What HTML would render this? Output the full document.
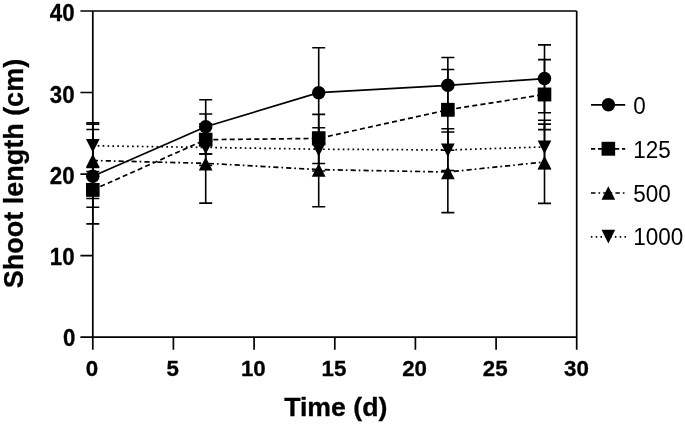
<!DOCTYPE html>
<html><head><meta charset="utf-8"><title>Shoot length</title>
<style>html,body{margin:0;padding:0;background:#fff}svg{display:block}text{font-family:"Liberation Sans",Arial,sans-serif;fill:#000}</style></head><body>
<svg width="685" height="426" viewBox="0 0 685 426">
<rect width="685" height="426" fill="#fff"/>
<g stroke="#000" stroke-width="1.7" fill="none" stroke-linecap="butt">
<path d="M92.8 11.0V337.1M576.7 11.0V349.70000000000005M80.4 11.0H576.7M80.4 337.1H576.7"/>
<path d="M80.4 255.6H92.8M80.4 174.1H92.8M80.4 92.5H92.8M92.8 337.1V349.70000000000005M173.4 337.1V349.70000000000005M254.1 337.1V349.70000000000005M334.8 337.1V349.70000000000005M415.4 337.1V349.70000000000005M496.1 337.1V349.70000000000005"/>
<path stroke-width="1.6" d="M92.8 129.5V223.9M86.3 129.5H99.3M86.3 223.9H99.3M205.7 99.7V153.9M199.2 99.7H212.2M199.2 153.9H212.2M318.7 47.8V137.6M312.2 47.8H325.2M312.2 137.6H325.2M447.85 57.5V113.4M441.35 57.5H454.35M441.35 113.4H454.35M544.5 44.9V112.7M538.0 44.9H551.0M538.0 112.7H551.0"/>
<path stroke-width="1.6" d="M92.8 171.5V207.2M86.3 171.5H99.3M86.3 207.2H99.3M205.7 114.0V165.4M199.2 114.0H212.2M199.2 165.4H212.2M318.7 114.4V163.5M312.2 114.4H325.2M312.2 163.5H325.2M447.85 69.5V150.2M441.35 69.5H454.35M441.35 150.2H454.35M544.5 59.6V129.6M538.0 59.6H551.0M538.0 129.6H551.0"/>
<path stroke-width="1.6" d="M92.8 122.9V198.5M86.3 122.9H99.3M86.3 198.5H99.3M205.7 123.9V203.1M199.2 123.9H212.2M199.2 203.1H212.2M318.7 132.3V206.7M312.2 132.3H325.2M312.2 206.7H325.2M447.85 132.0V212.6M441.35 132.0H454.35M441.35 212.6H454.35M544.5 120.3V203.4M538.0 120.3H551.0M538.0 203.4H551.0"/>
<path stroke-width="1.6" d="M92.8 124.2V167.4M86.3 124.2H99.3M86.3 167.4H99.3M205.7 140.9V153.9M199.2 140.9H212.2M199.2 153.9H212.2M318.7 127.8V171.0M312.2 127.8H325.2M312.2 171.0H325.2M447.85 128.7V170.5M441.35 128.7H454.35M441.35 170.5H454.35M544.5 124.1V168.8M538.0 124.1H551.0M538.0 168.8H551.0"/>
<path d="M92.8 176.2L205.7 126.7L318.7 92.7L447.85 85.3L544.5 78.6"/>
<path stroke-dasharray="5 3.2" d="M92.8 189.9L205.7 139.7L318.7 138.4L447.85 109.8L544.5 94.5"/>
<path stroke-dasharray="5.2 2.9 1.7 3.1" d="M92.8 160.5L205.7 163.3L318.7 169.6L447.85 172.0L544.5 162.0"/>
<path stroke-dasharray="1.7 3.2" d="M92.8 145.8L205.7 147.4L318.7 149.2L447.85 150.0L544.5 146.9"/>
<path d="M591 104.8H625.2"/>
<path stroke-dasharray="5.2 2.8" stroke-dashoffset="1" d="M591 148.8H625.2"/>
<path stroke-dasharray="4.5 2.9 1.7 3.1" d="M591 193.0H625.2"/>
<path stroke-dasharray="1.5 3.3" d="M590.9 236.8H626"/>
</g>
<g fill="#000">
<path d="M92.8 152.55L99.65 139.05H85.95Z"/>
<path d="M205.7 154.45L212.55 140.95H198.85Z"/>
<path d="M318.7 156.45L325.55 142.95H311.85Z"/>
<path d="M447.85 157.05L454.70 143.55H441.00Z"/>
<path d="M544.5 153.95L551.35 140.45H537.65Z"/>
<path d="M92.8 153.7L99.6 167.2H86.0Z"/>
<path d="M205.7 157.1L212.5 170.6H198.8Z"/>
<path d="M318.7 163.3L325.6 176.8H311.8Z"/>
<path d="M447.85 165.8L454.7 179.2H441.0Z"/>
<path d="M544.5 155.8L551.4 169.3H537.6Z"/>
<rect x="86.00" y="182.95" width="13.6" height="13.9"/>
<rect x="198.90" y="132.75" width="13.6" height="13.9"/>
<rect x="311.90" y="131.45" width="13.6" height="13.9"/>
<rect x="441.05" y="102.85" width="13.6" height="13.9"/>
<rect x="537.70" y="87.55" width="13.6" height="13.9"/>
<circle cx="92.8" cy="176.2" r="6.75"/>
<circle cx="205.7" cy="126.7" r="6.75"/>
<circle cx="318.7" cy="92.7" r="6.75"/>
<circle cx="447.85" cy="85.3" r="6.75"/>
<circle cx="544.5" cy="78.6" r="6.75"/>
<circle cx="608.4" cy="104.8" r="6.75"/>
<rect x="601.55" y="141.80" width="13.6" height="13.9"/>
<path d="M608.35 186.2L615.2 199.7H601.5Z"/>
<path d="M608.35 243.60L615.20 229.70H601.50Z"/>
</g>
<g font-size="22.3" font-weight="bold" text-anchor="end" stroke="#000" stroke-width="0.3">
<text transform="translate(75.5 345.8) scale(1 1.065)">0</text>
<text transform="translate(74.6 265.3) scale(1 1.065)">10</text>
<text transform="translate(74.6 183.6) scale(1 1.065)">20</text>
<text transform="translate(74.6 102.8) scale(1 1.065)">30</text>
<text transform="translate(74.6 21.3) scale(1 1.065)">40</text>
</g>
<g font-size="22.3" font-weight="bold" text-anchor="middle" stroke="#000" stroke-width="0.3">
<text transform="translate(92.0 376.4) scale(1 1.03)">0</text>
<text transform="translate(172.6 376.4) scale(1 1.03)">5</text>
<text transform="translate(253.3 376.4) scale(1 1.03)">10</text>
<text transform="translate(333.9 376.4) scale(1 1.03)">15</text>
<text transform="translate(414.6 376.4) scale(1 1.03)">20</text>
<text transform="translate(495.2 376.4) scale(1 1.03)">25</text>
<text transform="translate(576.4 376.4) scale(1 1.03)">30</text>
</g>
<text x="335.8" y="415.5" font-size="26.7" font-weight="bold" text-anchor="middle" stroke="#000" stroke-width="0.3">Time (d)</text>
<text transform="translate(23.3 173.6) rotate(-90)" font-size="27" font-weight="bold" text-anchor="middle" stroke="#000" stroke-width="0.3">Shoot length (cm)</text>
<g font-size="22.5">
<text transform="translate(633.2 113.8) scale(1 1.04)">0</text>
<text transform="translate(633.2 158.1) scale(1 1.04)">125</text>
<text transform="translate(633.2 201.8) scale(1 1.04)">500</text>
<text transform="translate(633.2 244.9) scale(1 1.04)">1000</text>
</g>
</svg></body></html>
